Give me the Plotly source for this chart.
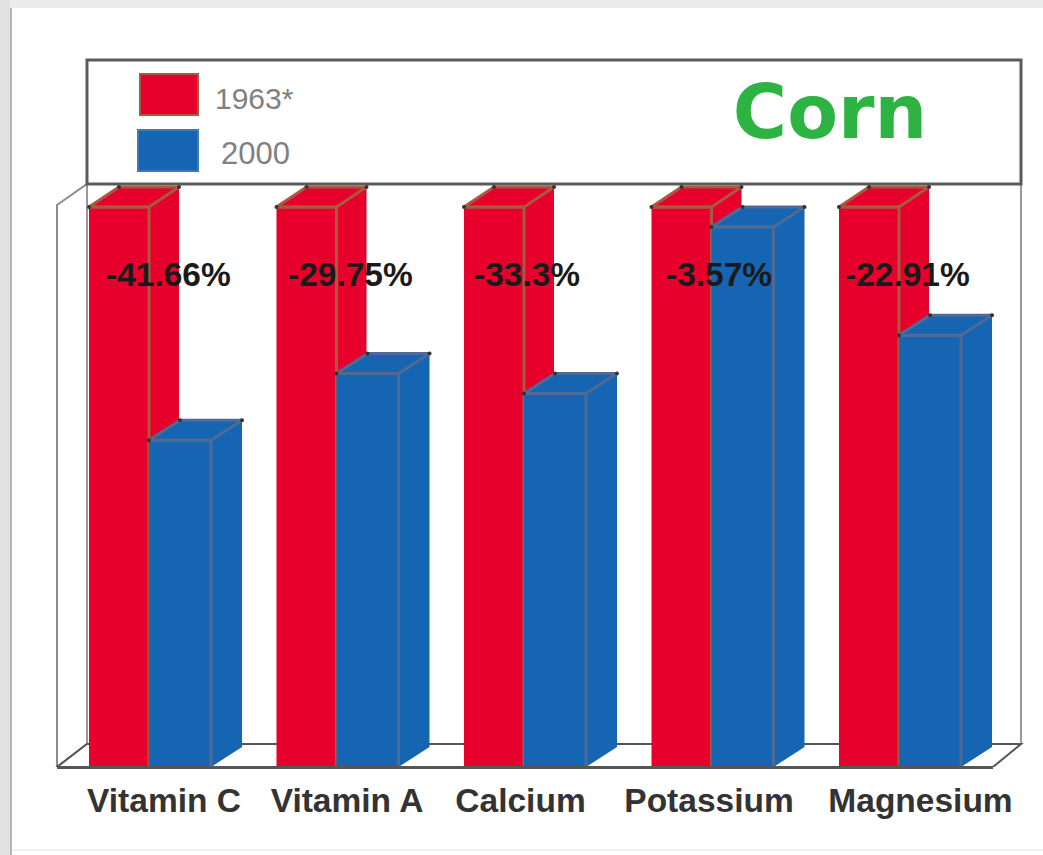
import plotly.graph_objects as go

# ---- data ----
CATEGORIES = ["Vitamin C", "Vitamin A", "Calcium", "Potassium", "Magnesium"]
VALUES_1963 = [100, 100, 100, 100, 100]
VALUES_2000 = [58.34, 70.25, 66.7, 96.43, 77.09]
CHANGE_LABELS = ["-41.66%", "-29.75%", "-33.3%", "-3.57%", "-22.91%"]
SERIES_NAMES = ["1963*", "2000"]
TITLE = "Corn"

# ---- layout constants (pixels of the 1043x855 page) ----
W, H = 1043, 855
BASE_PX = 767
ORIGIN_PX = 149
PITCH_PX = 187.5
UNIT_PX = 5.6
DY = 20
RED_BAR_PX, RED_DEPTH_PX = 60, 30
BLUE_BAR_PX, BLUE_DEPTH_PX = 62, 31
RED, BLUE = "#E6002B", "#1565B2"
RED_EDGE, BLUE_EDGE = "#A8593F", "#4F6A95"
FONT = "Liberation Sans"
LABEL_SHIFT = [15, 10.5, -3.5, -2.5, 21.5]
PCT_SHIFT = [19, 13.5, 3, 7.5, 8]


def dx(px):
    return px / PITCH_PX


def dy(px):
    return px / UNIT_PX


def fx(px):
    return (px - ORIGIN_PX) / PITCH_PX


def fy(px):
    return (BASE_PX - px) / UNIT_PX


def py(px):
    return (BASE_PX - px) / BASE_PX


def path(points):
    return "M " + " L ".join(f"{fx(a):.4f},{fy(b):.4f}" for a, b in points) + " Z"


fig = go.Figure()
positions = list(range(len(CATEGORIES)))


def faces(values, left_offset, width, depth, color, edge, xa, ya, name):
    side_x, side_y, top_x, top_y, edge_x, edge_y, dot_x, dot_y = [], [], [], [], [], [], [], []
    for p, v in zip(positions, values):
        l = p + left_offset
        r = l + width
        side_x += [r, r + depth, r + depth, r, None]
        side_y += [v, v + dy(DY), dy(DY), 0, None]
        top_x += [l, l + depth, r + depth, r, l, None]
        top_y += [v, v + dy(DY), v + dy(DY), v, v, None]
        edge_x += [l, r, r, None]
        edge_y += [v, v, 0, None]
        dot_x += [l, l + depth, r + depth]
        dot_y += [v, v + dy(DY), v + dy(DY)]
    common = dict(xaxis=xa, yaxis=ya, hoverinfo="skip", showlegend=False)
    fig.add_trace(go.Scatter(x=side_x, y=side_y, mode="lines", fill="toself", fillcolor=color,
                             line=dict(color=color, width=0), name=name + " side", **common))
    fig.add_trace(go.Scatter(x=top_x, y=top_y, mode="lines", fill="toself", fillcolor=color,
                             line=dict(color=edge, width=3), name=name + " top", **common))
    fig.add_trace(go.Scatter(x=edge_x, y=edge_y, mode="lines",
                             line=dict(color=edge, width=3), name=name + " edge", **common))
    fig.add_trace(go.Scatter(x=dot_x, y=dot_y, mode="markers",
                             marker=dict(color="#333333", size=4), name=name + " corners", **common))


# red series lives on the lower subplot, blue on the overlaid one so it hides the red side faces
red_w, blue_w = dx(RED_BAR_PX), dx(BLUE_BAR_PX)
fig.add_trace(go.Bar(x=[p - red_w / 2 for p in positions], y=VALUES_1963, width=red_w,
                     marker=dict(color=RED, line=dict(width=0)), name=SERIES_NAMES[0],
                     xaxis="x", yaxis="y", showlegend=False))
faces(VALUES_1963, -red_w, red_w, dx(RED_DEPTH_PX), RED, RED_EDGE, "x", "y", SERIES_NAMES[0])
fig.add_trace(go.Bar(x=[p + blue_w / 2 for p in positions], y=VALUES_2000, width=blue_w,
                     marker=dict(color=BLUE, line=dict(width=0)), name=SERIES_NAMES[1],
                     xaxis="x2", yaxis="y2", showlegend=False))
faces(VALUES_2000, 0, blue_w, dx(BLUE_DEPTH_PX), BLUE, BLUE_EDGE, "x2", "y2", SERIES_NAMES[1])

shapes = []


def page_rect(x0, y0, x1, y1, color):
    shapes.append(dict(type="rect", xref="x", yref="paper", x0=fx(x0), x1=fx(x1), y0=py(y0), y1=py(y1),
                       fillcolor=color, line=dict(width=0), layer="below"))


# page frame
page_rect(0, 0, W, 8, "#EBEBEB")
page_rect(0, 0, 10, H, "#E2E2E2")
page_rect(10, 8, 12, H, "#B5B5B5")
page_rect(12, 849, W, 851, "#F0F0F0")


def poly(points, color="#FFFFFF", line="#777777", width=2):
    shapes.append(dict(type="path", xref="x", yref="y", path=path(points), fillcolor=color,
                       line=dict(color=line, width=width), layer="below"))


# walls and floor
poly([(57, 205), (87, 184), (87, 744), (57, 767)], line="#8C8C8C")
poly([(87, 184), (1021, 184), (1021, 744), (87, 744)], line="#999999")
poly([(57, 767), (993, 767), (1021, 744), (87, 744)], line="#555555")
# header box
poly([(87, 60), (1021, 60), (1021, 184), (87, 184)], line="#5A5A5A", width=3)
# legend swatches
poly([(140, 74), (198, 74), (198, 115), (140, 115)], color=RED, line=RED_EDGE, width=2)
poly([(138, 130), (198, 130), (198, 171), (138, 171)], color=BLUE, line="#3F78B5", width=2)
# floor front edge, drawn over the feet of the bars and not clipped by the plot area
shapes.append(dict(type="line", xref="x", yref="paper", x0=fx(57), x1=fx(993), y0=py(767.5), y1=py(767.5),
                   line=dict(color="#555555", width=3), layer="above"))

annotations = []
for p, txt, s in zip(positions, CHANGE_LABELS, PCT_SHIFT):
    annotations.append(dict(x=p + dx(s), y=fy(274), xref="x", yref="y", text=txt, showarrow=False,
                            xanchor="center", yanchor="middle",
                            font=dict(family=FONT, size=33.5, color="#1A1A1A", weight="bold")))
annotations.append(dict(x=fx(254), y=fy(98), xref="x", yref="y", text=SERIES_NAMES[0], showarrow=False,
                        xanchor="center", yanchor="middle", font=dict(family=FONT, size=30, color="#808080")))
annotations.append(dict(x=fx(255), y=fy(153), xref="x", yref="y", text=SERIES_NAMES[1], showarrow=False,
                        xanchor="center", yanchor="middle", font=dict(family=FONT, size=31, color="#808080")))

x_range = [fx(0), fx(W)]
y_range = [0, fy(0)]
fig.update_layout(
    width=W, height=H,
    margin=dict(l=0, r=0, t=0, b=H - BASE_PX, autoexpand=False),
    paper_bgcolor="white", plot_bgcolor="rgba(0,0,0,0)",
    barmode="overlay", showlegend=False,
    title=dict(text=TITLE, x=830 / W, y=1 - 112 / H, xanchor="center", yanchor="middle",
               font=dict(family="DejaVu Sans", size=74, color="#2DB342", weight="bold")),
    shapes=shapes, annotations=annotations,
    xaxis=dict(range=x_range, tickmode="array",
               tickvals=[p + dx(s) for p, s in zip(positions, LABEL_SHIFT)],
               ticktext=CATEGORIES, ticks="outside", ticklen=4, tickcolor="rgba(0,0,0,0)",
               tickfont=dict(family=FONT, size=33.5, color="#333333", weight="bold"),
               showgrid=False, zeroline=False, showline=False, fixedrange=True),
    yaxis=dict(range=y_range, visible=False, fixedrange=True),
    xaxis2=dict(range=x_range, overlaying="x", visible=False, fixedrange=True),
    yaxis2=dict(range=y_range, overlaying="y", visible=False, fixedrange=True),
)

fig.write_html("out.html", config=dict(displayModeBar=False),
               post_script="document.body.style.margin='0';")
